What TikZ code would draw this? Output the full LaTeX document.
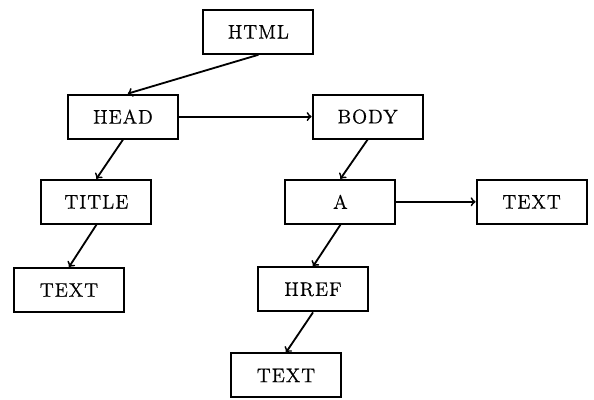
\documentclass[tikz,border=0pt]{standalone}
\usepackage{fontspec}
\newfontfamily\tagfont{Latin Modern Roman}[LetterSpace=5, FakeBold=0.6]
\usetikzlibrary{arrows}
\usetikzlibrary{shapes}

\begin{document}
\begin{tikzpicture}
	\tikzstyle{tagStyle}=[shape = rectangle, draw, line width = 1.4pt, minimum width = 2.75cm, minimum height = 1.1cm, inner sep = 0pt, font = \tagfont\fontsize{14}{16}\selectfont]
	\tikzstyle{linkStyle}=[->, >=to, line width = 1.3pt]
	\useasboundingbox (0, 0) rectangle (14.85, 9.975);
	\node[tagStyle] (html) at (6.46, 9.18) {HTML};
	\node[tagStyle] (head) at (3.075, 7.06) {HEAD};
	\node[tagStyle] (body) at (9.19, 7.06) {BODY};
	\node[tagStyle] (title) at (2.41, 4.93) {TITLE};
	\node[tagStyle] (a) at (8.51, 4.93) {A};
	\node[tagStyle] (textA) at (13.29, 4.93) {TEXT};
	\node[tagStyle] (textTitle) at (1.725, 2.725) {TEXT};
	\node[tagStyle] (href) at (7.825, 2.74) {HREF};
	\node[tagStyle] (textHref) at (7.15, 0.59) {TEXT};
	\draw[linkStyle] (html.south) -- ([xshift = 0.12cm]head.north);
	\draw[linkStyle] (head.east) -- (body.west);
	\draw[linkStyle] (head.south) -- (title.north);
	\draw[linkStyle] (title.south) -- (textTitle.north);
	\draw[linkStyle] (body.south) -- (a.north);
	\draw[linkStyle] (a.east) -- (textA.west);
	\draw[linkStyle] (a.south) -- (href.north);
	\draw[linkStyle] (href.south) -- (textHref.north);
\end{tikzpicture}
\end{document}
